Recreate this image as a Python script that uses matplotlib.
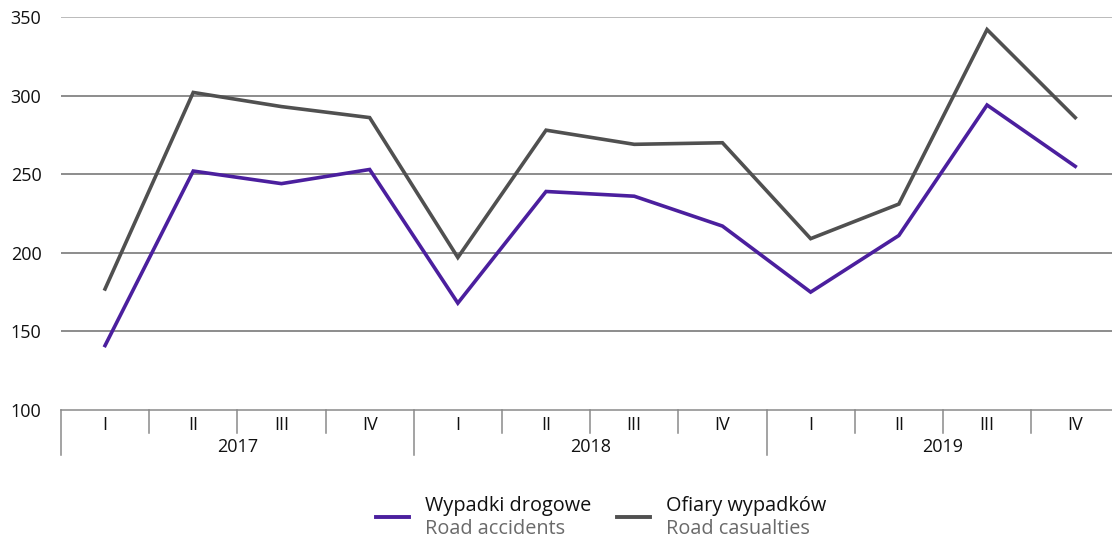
import matplotlib.pyplot as plt
import matplotlib.transforms as mtransforms
from matplotlib.lines import Line2D
from matplotlib import rcParams

rcParams['font.family'] = ['Open Sans', 'DejaVu Sans']

quarters = ["I", "II", "III", "IV"] * 3
years = ["2017", "2018", "2019"]
accidents = [141, 252, 244, 253, 168, 239, 236, 217, 175, 211, 294, 255]
casualties = [177, 302, 293, 286, 197, 278, 269, 270, 209, 231, 342, 286]
y_ticks = [100, 150, 200, 250, 300, 350]

purple = '#4b1f9e'
dark = '#505050'
grid_col = '#6e6e6e'
tick_size = 13

fig = plt.figure(figsize=(11.12, 5.39), dpi=100)
ax = fig.add_axes([0.0548, 0.2393, 0.9518, 0.7292])

x = list(range(len(accidents)))
ax.plot(x, casualties, color=dark, lw=2.6, solid_joinstyle='miter', zorder=3)
ax.plot(x, accidents, color=purple, lw=2.6, solid_joinstyle='miter', zorder=4)

ax.set_xlim(-0.5, len(x) - 0.5)
ax.set_ylim(100, 350)
ax.set_yticks(y_ticks)
ax.set_yticklabels([str(v) for v in y_ticks], fontsize=tick_size, color='#111111')
ax.tick_params(axis='y', length=0, pad=14)
ax.set_xticks([])

for v in y_ticks[1:]:
    c = '#a8a8a8' if v == y_ticks[-1] else grid_col
    ax.axhline(v, color=c, lw=1.1, zorder=1)

for s in ['top', 'right', 'left']:
    ax.spines[s].set_visible(False)
ax.spines['bottom'].set_color('#8a8a8a')
ax.spines['bottom'].set_linewidth(1.1)

trans = mtransforms.blended_transform_factory(ax.transData, ax.transAxes)
q_depth = -0.058
y_depth = -0.115
for i in range(len(x) + 1):
    b = i - 0.5
    depth = y_depth if i % 4 == 0 else q_depth
    ax.plot([b, b], [0, depth], color='#8a8a8a', lw=1.1, transform=trans, clip_on=False)

for i, q in enumerate(quarters):
    ax.text(i, -0.038, q, transform=trans, ha='center', va='center',
            fontsize=tick_size, color='#111111')
for j, yr in enumerate(years):
    ax.text(j * 4 + 1.5, -0.094, yr, transform=trans, ha='center', va='center',
            fontsize=tick_size, color='#111111')

# legend drawn by hand: two-line labels
legend_items = [
    (purple, "Wypadki drogowe", "Road accidents", 376),
    (dark, "Ofiary wypadków", "Road casualties", 617),
]
W, H = 1112, 539
for col, pl, en, px in legend_items:
    fig.add_artist(Line2D([px / W, (px + 33) / W], [1 - 517 / H, 1 - 517 / H],
                          color=col, lw=2.8, transform=fig.transFigure))
    fig.text((px + 49) / W, 1 - 506 / H, pl, fontsize=14.3, color='#111111', va='center')
    fig.text((px + 49) / W, 1 - 529 / H, en, fontsize=14.3, color='#6a6a6a', va='center')

plt.savefig('out.png', dpi=100)
